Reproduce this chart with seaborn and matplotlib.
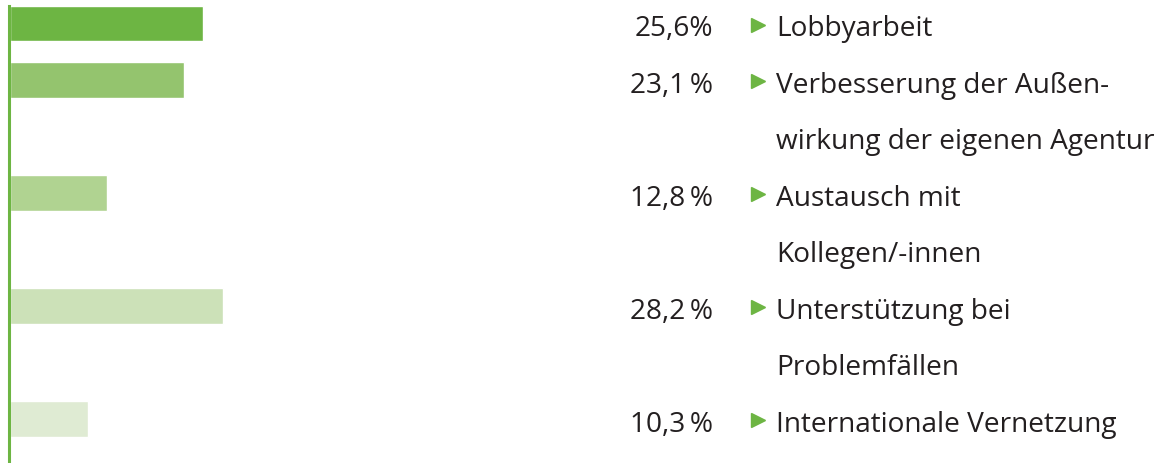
import numpy as np
import pandas as pd
import matplotlib
matplotlib.use('Agg')
import matplotlib.pyplot as plt
import seaborn as sns

# values
labels = [
    'Lobbyarbeit',
    'Verbesserung der Außen-\nwirkung der eigenen Agentur',
    'Austausch mit\nKollegen/-innen',
    'Unterstützung bei\nProblemfällen',
    'Internationale Vernetzung',
]
values = [25.6, 23.1, 12.8, 28.2, 10.3]
pct_labels = ['25,6%', '23,1\u2009%', '12,8\u2009%', '28,2\u2009%', '10,3\u2009%']
bar_colors = ['#6db543', '#94c46e', '#b0d391', '#cce1b8', '#dfebd3']

green = '#6db543'
text_color = '#231f20'

sns.set_theme(style='white')
plt.rcParams['font.family'] = ['Open Sans', 'DejaVu Sans']

# each entry starts on the row after the previous entry's last text line
n_lines = [len(l.split('\n')) for l in labels]
rows = np.concatenate([[0], np.cumsum(n_lines)[:-1]])

df = pd.DataFrame({'row': rows, 'value': values, 'label': labels})

fig = plt.figure(figsize=(11.62, 4.64), dpi=100)
ax = fig.add_axes([0, 0, 1, 1])

sns.barplot(data=df, x='value', y='row', hue='row', palette=bar_colors,
            orient='h', native_scale=True, width=0.62, legend=False,
            saturation=1, ax=ax)

px = 7.54  # pixels per percent
ax.set_xlim(-10 / px, (1162 - 10) / px)
ax.set_ylim((464 - 24.5) / 56.5, -24.5 / 56.5)

for s in ['top', 'right', 'bottom']:
    ax.spines[s].set_visible(False)
ax.spines['left'].set_color(green)
ax.spines['left'].set_linewidth(2.2)
ax.spines['left'].set_position(('data', -1.5 / px))
ax.spines['left'].set_bounds(-0.31, (464 - 24.5) / 56.5)
ax.set_xticks([])
ax.set_yticks([])
ax.set_xlabel('')
ax.set_ylabel('')

tr = ax.get_yaxis_transform()
fs = 20.2
dy = 0.08  # text sits slightly below the bar centre
for r, pct, lab in zip(rows, pct_labels, labels):
    ax.text(0.614, r + dy, pct, transform=tr, ha='right', va='center',
            fontsize=fs, color=text_color)
    ax.plot([0.6525], [r + 0.02], transform=tr, marker='>', markersize=10.5,
            color=green, linestyle='none')
    for i, line in enumerate(lab.split('\n')):
        ax.text(0.668, r + i + dy, line, transform=tr, ha='left', va='center',
                fontsize=fs, color=text_color)

fig.savefig('out.png', dpi=100)
